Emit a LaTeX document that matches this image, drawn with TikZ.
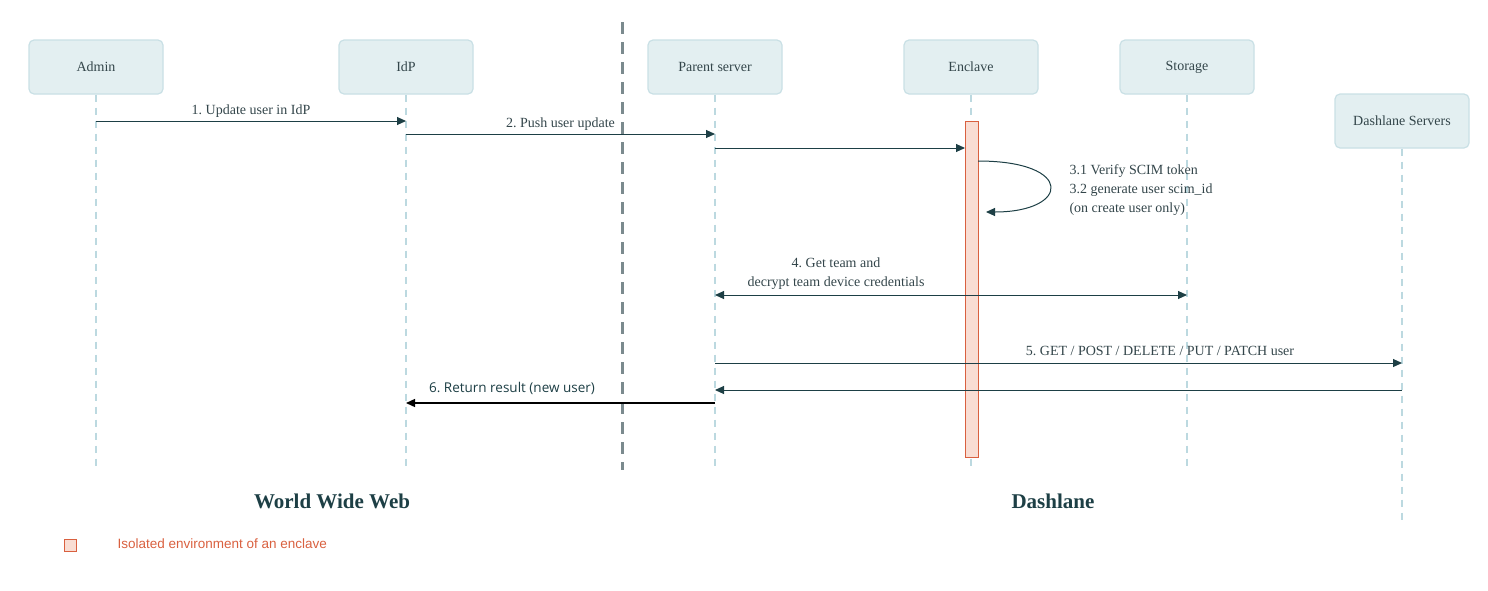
\documentclass[tikz,border=0pt]{standalone}
\usepackage{fontspec}
\setmainfont{Liberation Serif}
\newfontfamily\lsans{Liberation Sans}
\newfontfamily\osans{Open Sans}
\usetikzlibrary{arrows.meta}
\definecolor{boxfill}{HTML}{E3EFF1}
\definecolor{boxline}{HTML}{C9E0E5}
\definecolor{life}{HTML}{BCD9E0}
\definecolor{ink}{HTML}{1D3F45}
\definecolor{txt}{HTML}{33454A}
\definecolor{act}{HTML}{F9DDD3}
\definecolor{actline}{HTML}{D9603F}
\definecolor{divc}{HTML}{7B8A8E}
\begin{document}
\frenchspacing
\begin{tikzpicture}[x=1pt,y=-1pt,
  actor/.style={draw=boxline,line width=1.2pt,fill=boxfill,rounded corners=5pt,minimum width=134pt,minimum height=54pt,font=\fontsize{14}{16}\selectfont,text=txt},
  lifeline/.style={draw=life,line width=1.3pt,dash pattern=on 7pt off 6pt},
  msg/.style={draw=ink,line width=1pt,-{Triangle[length=9pt,width=8pt]}},
  lbl/.style={font=\fontsize{14}{19}\selectfont,text=txt,align=center}]
\useasboundingbox (0,0) rectangle (1488,590);
\node[actor] (admin) at (96,67) {Admin};
\node[actor] (idp) at (406,67) {IdP};
\node[actor] (parent) at (715,67) {Parent server};
\node[actor] (encl) at (971,67) {Enclave};
\node[actor] (stor) at (1187,67) {Storage};
\node[actor] (dash) at (1402,121) {Dashlane Servers};
\coordinate (aE) at (96,470); \coordinate (iE) at (406,470); \coordinate (pE) at (715,470);
\coordinate (eE) at (971,470); \coordinate (sE) at (1187,470); \coordinate (dE) at (1402,525);
\draw[lifeline] (admin.south) -- (aE);
\draw[lifeline] (idp.south) -- (iE);
\draw[lifeline] (parent.south) -- (pE);
\draw[lifeline] (encl.south) -- (eE);
\draw[lifeline] (stor.south) -- (sE);
\draw[lifeline] (dash.south) -- (dE);
\coordinate (d1) at (622,22); \coordinate (d2) at (622,470);
\draw[divc,line width=3pt,dash pattern=on 12pt off 8pt] (d1) -- (d2);
\node[draw=actline,fill=act,line width=1pt,minimum width=13pt,minimum height=336pt,inner sep=0pt] (act) at (971.5,289) {};
\coordinate (m1a) at (96,121); \coordinate (m1b) at (406,121);
\draw[msg] (m1a) -- node[lbl,above=0pt]{1. Update user in IdP} (m1b);
\coordinate (m2a) at (406,134); \coordinate (m2b) at (715,134);
\draw[msg] (m2a) -- node[lbl,above=0pt,pos=0.5]{2. Push user update} (m2b);
\coordinate (m3a) at (715,148); \coordinate (m3b) at (965,148);
\draw[msg] (m3a) -- (m3b);
\coordinate (s1) at (978,161); \coordinate (s2) at (986,212);
\draw[msg] (s1) .. controls (1075,161) and (1070,212) .. (s2);
\node[lbl,align=left,anchor=west] (t3) at (1066,190) {3.1 Verify SCIM token\\3.2 generate user scim\_id\\(on create user only)};
\coordinate (m4a) at (715,295); \coordinate (m4b) at (1187,295);
\draw[msg,{Triangle[length=9pt,width=8pt]}-{Triangle[length=9pt,width=8pt]}] (m4a) -- (m4b);
\node[lbl] (t4) at (836,274) {4. Get team and\\decrypt team device credentials};
\coordinate (m5a) at (715,363); \coordinate (m5b) at (1402,363);
\draw[msg] (m5a) -- (m5b);
\node[lbl] (t5) at (1160,351) {5. GET / POST / DELETE / PUT / PATCH user};
\coordinate (m6a) at (1402,390); \coordinate (m6b) at (715,390);
\draw[msg] (m6a) -- (m6b);
\coordinate (m7a) at (715,403); \coordinate (m7b) at (406,403);
\draw[msg,draw=black,line width=1.3pt] (m7a) -- (m7b);
\node[lbl,font=\osans\fontsize{13.5}{16}\selectfont,text=ink,fill=white,inner sep=1pt] (t7) at (512,388) {6. Return result (new user)};
\node[font=\fontsize{21}{24}\selectfont\bfseries,text=ink] (www) at (332,501) {World Wide Web};
\node[font=\fontsize{21}{24}\selectfont\bfseries,text=ink] (dl) at (1053,501) {Dashlane};
\node[draw=actline,fill=act,line width=1pt,minimum size=12pt,inner sep=0pt] (leg) at (70,545) {};
\node[anchor=west,font=\lsans\fontsize{13.5}{15}\selectfont,text=actline] (legt) at (114,544) {Isolated environment of an enclave};
\end{tikzpicture}
\end{document}
